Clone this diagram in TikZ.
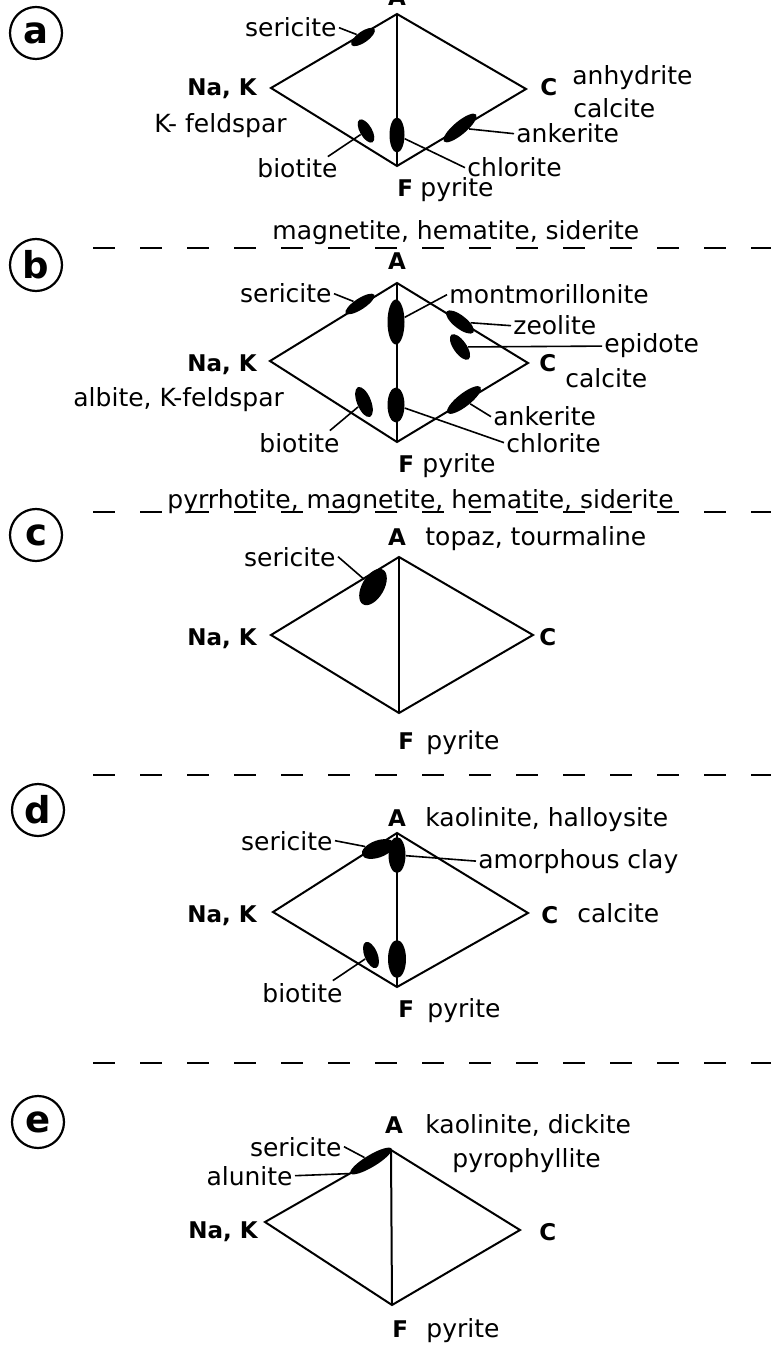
\documentclass[tikz,border=0pt]{standalone}
\usepackage{fontspec}
\setmainfont{DejaVu Sans}
\usetikzlibrary{shapes}

\tikzset{
  mineral/.style={font=\fontsize{12.5}{14}\selectfont, inner sep=1pt},
  corner/.style={font=\bfseries\fontsize{11.5}{13}\selectfont, inner sep=1pt},
  panel/.style={draw, circle, line width=1.1pt, minimum size=26pt, inner sep=0pt, font=\bfseries\fontsize{18.5}{18.5}\selectfont},
  blob/.style={fill=black, ellipse, inner sep=0pt},
  edge/.style={line width=1pt, line join=miter},
  leader/.style={line width=0.8pt},
  sep/.style={line width=1pt, dash pattern=on 11pt off 12.5pt}
}

\begin{document}
\begin{tikzpicture}[x=0.5pt,y=-0.5pt]
                \useasboundingbox (0,0) rectangle (771,1347);

                % Panel a
                \node[panel] (pa) at (36,33) {a};
                \coordinate (aA) at (397,14);
                \coordinate (aN) at (271,88);
                \coordinate (aC) at (526,89);
                \coordinate (aF) at (397,166);
                \draw[edge] (aA) -- (aC) -- (aF) -- (aN) -- cycle;
                \draw[edge] (aA) -- (aF);
                \node[corner, anchor=base] (aAlab) at (397,6) {A};
                \node[corner, anchor=base east] (aNlab) at (259,96) {Na, K};
                \node[corner, anchor=base west] (aClab) at (538,96) {C};
                \node[corner, anchor=base west] (aFlab) at (395,197) {F};
                \node[mineral, anchor=base west] (aFmin) at (418,197) {pyrite};
                \node[mineral, anchor=base west] (aCmin1) at (570,85) {anhydrite};
                \node[mineral, anchor=base west] (aCmin2) at (571,118) {calcite};
                \node[mineral, anchor=base west] (aNmin) at (152,133) {K- feldspar};
                \node[mineral, anchor=base west] (aAmin) at (270,240) {magnetite, hematite, siderite};
                % blobs
                \node[blob, minimum width=14pt, minimum height=5.5pt, rotate=35] (serA) at (363,37) {};
                \node[blob, minimum width=13pt, minimum height=6pt, rotate=-60] (bioA) at (366,131) {};
                \node[blob, minimum width=7.5pt, minimum height=17.5pt] (chlA) at (397,135) {};
                \node[blob, minimum width=21pt, minimum height=6.5pt, rotate=40] (ankA) at (460,128) {};
                % leaders
                \node[mineral, anchor=base east] (serAlab) at (339,37) {sericite};
                \node[mineral, anchor=base west] (bioAlab) at (255,178) {biotite};
                \node[mineral, anchor=base west] (chlAlab) at (465,177) {chlorite};
                \node[mineral, anchor=base west] (ankAlab) at (514,143) {ankerite};
                \draw[leader] (serAlab.east) -- (serA);
                \draw[leader] ([xshift=-6pt]bioAlab.north east) -- (bioA);
                \draw[leader] (chlA) -- (chlAlab.west);
                \draw[leader] (ankAlab.west) -- (ankA);

                \draw[sep] (93,248) -- (771,248);

                % Panel b
                \node[panel] (pb) at (36,265) {b};
                \coordinate (bA) at (397,283);
                \coordinate (bN) at (270,361);
                \coordinate (bC) at (528,363);
                \coordinate (bF) at (397,442);
                \draw[edge] (bA) -- (bC) -- (bF) -- (bN) -- cycle;
                \draw[edge] (bA) -- (bF);
                \node[corner, anchor=base] (bAlab) at (397,270) {A};
                \node[corner, anchor=base east] (bNlab) at (259,372) {Na, K};
                \node[corner, anchor=base west] (bClab) at (537,372) {C};
                \node[corner, anchor=base west] (bFlab) at (396,472) {F};
                \node[mineral, anchor=base west] (bFmin) at (420,472) {pyrite};
                \node[mineral, anchor=base west] (bCmin) at (563,388) {calcite};
                \node[mineral, anchor=base west] (bNmin) at (71,407) {albite, K-feldspar};
                \node[mineral, anchor=base west] (bAmin) at (165,508) {pyrrhotite, magnetite, hematite, siderite};
                % blobs
                \node[blob, minimum width=17pt, minimum height=5.5pt, rotate=33] (serB) at (360,304) {};
                \node[blob, minimum width=8.5pt, minimum height=22.5pt] (monB) at (396,322) {};
                \node[blob, minimum width=17pt, minimum height=6.5pt, rotate=-38] (zeoB) at (460,322) {};
                \node[blob, minimum width=15pt, minimum height=6.5pt, rotate=-55] (epiB) at (460,347) {};
                \node[blob, minimum width=16pt, minimum height=7pt, rotate=-68] (bioB) at (364,402) {};
                \node[blob, minimum width=8.5pt, minimum height=17.5pt] (chlB) at (396,405) {};
                \node[blob, minimum width=21pt, minimum height=6.5pt, rotate=38] (ankB) at (464,400) {};
                % leaders
                \node[mineral, anchor=base east] (serBlab) at (334,303) {sericite};
                \node[mineral, anchor=base west] (monBlab) at (447,304) {montmorillonite};
                \node[mineral, anchor=base west] (zeoBlab) at (511,335) {zeolite};
                \node[mineral, anchor=base west] (epiBlab) at (602,353) {epidote};
                \node[mineral, anchor=base west] (bioBlab) at (257,452) {biotite};
                \node[mineral, anchor=base west] (ankBlab) at (491,426) {ankerite};
                \node[mineral, anchor=base west] (chlBlab) at (504,452) {chlorite};
                \draw[leader] (serBlab.east) -- (serB);
                \draw[leader] (monB) -- (monBlab.west);
                \draw[leader] (zeoBlab.west) -- (zeoB);
                \draw[leader] (epiB) -- (epiBlab.west);
                \draw[leader] ([xshift=-6pt]bioBlab.north east) -- (bioB);
                \draw[leader] (ankBlab.west) -- (ankB);
                \draw[leader] (chlB) -- (chlBlab.west);

                \draw[sep] (93,512) -- (771,512);

                % Panel c
                \node[panel] (pc) at (36,535) {c};
                \coordinate (cA) at (399,557);
                \coordinate (cN) at (271,635);
                \coordinate (cC) at (533,635);
                \coordinate (cF) at (399,713);
                \draw[edge] (cA) -- (cC) -- (cF) -- (cN) -- cycle;
                \draw[edge] (cA) -- (cF);
                \node[corner, anchor=base] (cAlab) at (397,545) {A};
                \node[corner, anchor=base east] (cNlab) at (259,645) {Na, K};
                \node[corner, anchor=base west] (cClab) at (537,645) {C};
                \node[corner, anchor=base west] (cFlab) at (396,749) {F};
                \node[mineral, anchor=base west] (cFmin) at (424,749) {pyrite};
                \node[mineral, anchor=base west] (cAmin) at (423,545) {topaz, tourmaline};
                % blobs
                \node[blob, minimum width=20pt, minimum height=11pt, rotate=60] (serC) at (373,587) {};
                % leaders
                \node[mineral, anchor=base east] (serClab) at (338,566) {sericite};
                \draw[leader] (serClab.east) -- (serC);

                \draw[sep] (93,775) -- (771,775);

                % Panel d
                \node[panel] (pd) at (38,810) {d};
                \coordinate (dA) at (397,833);
                \coordinate (dN) at (273,912);
                \coordinate (dC) at (528,913);
                \coordinate (dF) at (397,987);
                \draw[edge] (dA) -- (dC) -- (dF) -- (dN) -- cycle;
                \draw[edge] (dA) -- (dF);
                \node[corner, anchor=base] (dAlab) at (397,826) {A};
                \node[corner, anchor=base east] (dNlab) at (259,922) {Na, K};
                \node[corner, anchor=base west] (dClab) at (539,923) {C};
                \node[corner, anchor=base west] (dFlab) at (396,1017) {F};
                \node[mineral, anchor=base west] (dFmin) at (425,1017) {pyrite};
                \node[mineral, anchor=base west] (dCmin) at (575,922) {calcite};
                \node[mineral, anchor=base west] (dAmin) at (423,826) {kaolinite, halloysite};
                % blobs
                \node[blob, minimum width=17pt, minimum height=8.5pt, rotate=20] (serD) at (378,849) {};
                \node[blob, minimum width=8.5pt, minimum height=18pt] (amoD) at (397,855) {};
                \node[blob, minimum width=14pt, minimum height=6.5pt, rotate=-68] (bioD) at (371,955) {};
                \node[blob, minimum width=9pt, minimum height=19pt] (pyrD) at (397,959) {};
                % leaders
                \node[mineral, anchor=base east] (serDlab) at (335,850) {sericite};
                \node[mineral, anchor=base west] (amoDlab) at (476,868) {amorphous clay};
                \node[mineral, anchor=base west] (bioDlab) at (260,1002) {biotite};
                \draw[leader] (serDlab.east) -- (serD);
                \draw[leader] (amoD) -- (amoDlab.west);
                \draw[leader] ([xshift=-6pt]bioDlab.north east) -- (bioD);

                \draw[sep] (93,1063) -- (771,1063);

                % Panel e
                \node[panel] (pe) at (38,1122) {e};
                \coordinate (eA) at (391,1150);
                \coordinate (eN) at (265,1222);
                \coordinate (eC) at (520,1230);
                \coordinate (eF) at (392,1305);
                \draw[edge] (eA) -- (eC) -- (eF) -- (eN) -- cycle;
                \draw[edge] (eA) -- (eF);
                \node[corner, anchor=base] (eAlab) at (394,1133) {A};
                \node[corner, anchor=base east] (eNlab) at (260,1238) {Na, K};
                \node[corner, anchor=base west] (eClab) at (537,1240) {C};
                \node[corner, anchor=base west] (eFlab) at (390,1337) {F};
                \node[mineral, anchor=base west] (eFmin) at (424,1337) {pyrite};
                \node[mineral, anchor=base west] (eAmin1) at (423,1133) {kaolinite, dickite};
                \node[mineral, anchor=base west] (eAmin2) at (450,1167) {pyrophyllite};
                % blobs
                \node[blob, minimum width=24pt, minimum height=6pt, rotate=31] (aluE) at (371,1161) {};
                % leaders
                \node[mineral, anchor=base east] (serElab) at (344,1156) {sericite};
                \node[mineral, anchor=base east] (aluElab) at (295,1185) {alunite};
                \draw[leader] (serElab.east) -- (aluE);
                \draw[leader] (aluElab.east) -- (aluE.west);
\end{tikzpicture}
\end{document}
